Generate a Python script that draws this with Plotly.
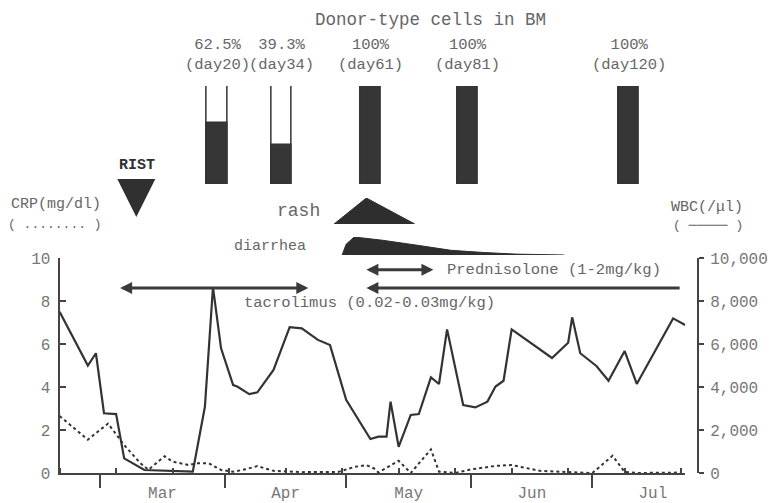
import plotly.graph_objects as go

W, H = 771, 503

# ---------------- data ----------------
# WBC (/ul), solid line, right axis
wbc_dates = ["2001-02-19", "2001-02-26", "2001-02-28", "2001-03-02", "2001-03-05", "2001-03-07",
             "2001-03-12", "2001-03-18", "2001-03-24", "2001-03-27", "2001-03-29", "2001-03-31",
             "2001-04-03", "2001-04-04", "2001-04-07", "2001-04-09", "2001-04-13", "2001-04-17",
             "2001-04-20", "2001-04-24", "2001-04-27", "2001-05-01", "2001-05-07", "2001-05-09",
             "2001-05-11", "2001-05-12", "2001-05-14", "2001-05-17", "2001-05-19", "2001-05-22",
             "2001-05-24", "2001-05-26", "2001-05-30", "2001-06-02", "2001-06-05", "2001-06-07",
             "2001-06-09", "2001-06-11", "2001-06-21", "2001-06-25", "2001-06-26", "2001-06-28",
             "2001-07-02", "2001-07-05", "2001-07-09", "2001-07-12", "2001-07-21", "2001-07-24"]
wbc_values = [7500, 5000, 5570, 2780, 2740, 680, 140, 100, 60, 3080,
              8650, 5800, 4090, 4020, 3670, 3750, 4790, 6780, 6730, 6190,
              5950, 3400, 1580, 1690, 1690, 3320, 1220, 2700, 2740, 4450,
              4140, 6680, 3160, 3050, 3320, 4020, 4290, 6680, 5350, 6060,
              7240, 5570, 4980, 4290, 5670, 4140, 7190, 6880]

# CRP (mg/dl), dotted line, left axis
crp_dates = ["2001-02-19", "2001-02-26", "2001-03-03", "2001-03-07", "2001-03-11", "2001-03-13",
             "2001-03-17", "2001-03-19", "2001-03-23", "2001-03-25", "2001-03-28", "2001-03-31",
             "2001-04-03", "2001-04-06", "2001-04-09", "2001-04-13", "2001-04-20", "2001-04-27",
             "2001-04-29", "2001-05-03", "2001-05-06", "2001-05-08", "2001-05-09", "2001-05-14",
             "2001-05-17", "2001-05-22", "2001-05-24", "2001-05-28", "2001-06-01", "2001-06-07",
             "2001-06-11", "2001-06-18", "2001-06-25", "2001-07-01", "2001-07-06", "2001-07-09",
             "2001-07-12", "2001-07-23"]
crp_values = [2.65, 1.55, 2.3, 1.3, 0.46, 0.15, 0.78, 0.53, 0.37, 0.45,
              0.45, 0.14, 0.06, 0.17, 0.32, 0.1, 0.04, 0.03, 0.05, 0.28,
              0.37, 0.2, 0.02, 0.57, 0.0, 1.1, 0.06, 0.0, 0.17, 0.33,
              0.37, 0.1, 0.05, 0.0, 0.8, 0.05, 0.0, 0.02]

# Donor-type cells in BM
bar_days = [20, 34, 61, 81, 120]
donor_pct = [62.5, 39.3, 100, 100, 100]
bar_dates = ["2001-03-30", "2001-04-15", "2001-05-07", "2001-05-31", "2001-07-10"]

# RIST
rist_date = "2001-03-10"

# GVHD symptoms (relative intensity)
rash_dates = ["2001-04-28", "2001-05-06", "2001-05-18"]
rash_level = [0, 1, 0]
diarrhea_dates = ["2001-04-30", "2001-05-01", "2001-05-03", "2001-05-10", "2001-05-19",
                  "2001-05-27", "2001-06-04", "2001-06-12", "2001-06-24"]
diarrhea_level = [0, 0.6, 1.0, 0.82, 0.53, 0.26, 0.14, 0.05, 0]

# drug periods
tacrolimus_periods = [("2001-03-06", "2001-04-22"), ("2001-05-06", "2001-07-23")]
prednisolone_period = ("2001-05-06", "2001-05-23")

month_tick0 = "2001-03-01"
x_range = ["2001-02-19", "2001-07-24"]
left_ticks = [0, 2, 4, 6, 8, 10]
right_ticks = [0, 2000, 4000, 6000, 8000, 10000]


def px(x):
    return x / W


def py(y):
    return 1 - y / H


DARK = "#333333"
TXT = "#666666"
DAY_MS = 24 * 3600 * 1000

fig = go.Figure()

# CRP dotted
fig.add_trace(go.Scatter(x=crp_dates, y=crp_values, yaxis="y", mode="lines",
                         line=dict(color=DARK, width=2, dash="dot"), hoverinfo="skip"))
# WBC solid
fig.add_trace(go.Scatter(x=wbc_dates, y=wbc_values, yaxis="y2", mode="lines",
                         line=dict(color=DARK, width=2.2), hoverinfo="skip"))

# chimerism bars
fig.add_trace(go.Bar(x=bar_dates, y=[100 for _ in donor_pct], yaxis="y3",
                     width=[5 * DAY_MS for _ in donor_pct],
                     marker=dict(color="white", line=dict(color=DARK, width=1.5)), hoverinfo="skip"))
fig.add_trace(go.Bar(x=bar_dates, y=donor_pct, yaxis="y3",
                     width=[5 * DAY_MS for _ in donor_pct],
                     marker=dict(color="#363636", line=dict(color=DARK, width=1.5)), hoverinfo="skip"))

# rash
fig.add_trace(go.Scatter(x=rash_dates, y=rash_level, yaxis="y4", mode="lines", fill="tozeroy",
                         fillcolor="#2e2e2e", line=dict(color="#2e2e2e", width=1), hoverinfo="skip"))
# diarrhea
fig.add_trace(go.Scatter(x=diarrhea_dates, y=diarrhea_level, yaxis="y5", mode="lines", fill="tozeroy",
                         fillcolor="#2e2e2e", line=dict(color="#2e2e2e", width=1),
                         hoverinfo="skip"))
# RIST marker
fig.add_trace(go.Scatter(x=[rist_date], y=[0.27], yaxis="y4", mode="markers", cliponaxis=False,
                         marker=dict(symbol="arrow-down", size=38, color="#303030",
                                     line=dict(width=0)), hoverinfo="skip"))

ann = []
ARROW = "#3a3a3a"
# tacrolimus arrows
(t1s, t1e), (t2s, t2e) = tacrolimus_periods
ann.append(dict(x=t1s, y=8.6, ax=t1e, ay=8.6, xref="x", yref="y", axref="x", ayref="y", text="",
                showarrow=True, arrowhead=2, arrowsize=0.8, arrowwidth=3, arrowcolor=ARROW,
                arrowside="end+start"))
ann.append(dict(x=t2s, y=8.6, ax=t2e, ay=8.6, xref="x", yref="y", axref="x", ayref="y", text="",
                showarrow=True, arrowhead=2, arrowsize=0.8, arrowwidth=3, arrowcolor=ARROW,
                arrowside="end"))
ann.append(dict(x=prednisolone_period[0], y=9.45, ax=prednisolone_period[1], ay=9.45, xref="x", yref="y",
                axref="x", ayref="y", text="", showarrow=True, arrowhead=2, arrowsize=0.8,
                arrowwidth=3, arrowcolor=ARROW, arrowside="end+start"))

# bar labels
for d, p, bd in zip(bar_days, donor_pct, bar_dates):
    ann.append(dict(x=bd, y=100, xref="x", yref="y3", xanchor="center", yanchor="bottom", yshift=10,
                    showarrow=False, text=f"{p:g}%<br>(day{d})", font=dict(size=15.5, color=TXT)))

ann += [
    dict(x=px(430), y=py(20), text="Donor-type cells in BM", font=dict(size=17.5, color=TXT)),
    dict(x=px(136.5), y=py(165), text="<b>RIST</b>", font=dict(size=15, color="#303030")),
    dict(x=px(56), y=py(204), text="CRP(mg/dl)", font=dict(size=15, color=TXT)),
    dict(x=px(55), y=py(224), text="( ........ )", font=dict(size=13, color=TXT)),
    dict(x=px(707), y=py(207), text="WBC(/μl)", font=dict(size=15, color=TXT)),
    dict(x=px(708), y=py(225), text="( ───── )", font=dict(size=13, color=TXT)),
    dict(x=px(322), y=py(211), text="rash", xanchor="right", font=dict(size=18, color=TXT)),
    dict(x=px(308), y=py(246), text="diarrhea", xanchor="right", font=dict(size=15, color=TXT)),
    dict(x=px(242), y=py(303), text="tacrolimus (0.02-0.03mg/kg)", xanchor="left",
         font=dict(size=15.5, color=TXT)),
    dict(x=px(445), y=py(270), text="Prednisolone (1-2mg/kg)", xanchor="left",
         font=dict(size=15.5, color=TXT)),
]
for a in ann[3 + len(bar_days):]:
    a.setdefault("xanchor", "center")
    a.update(xref="paper", yref="paper", showarrow=False, yanchor="middle")

axis_common = dict(showgrid=False, zeroline=False, showline=True, linecolor="#444", linewidth=2,
                   tickcolor="#444", tickwidth=1.5, tickfont=dict(size=16, color="#777"),
                   fixedrange=True, automargin=False)

fig.update_layout(
    template="none",
    width=W, height=H, margin=dict(l=0, r=0, t=0, b=0, pad=0), autosize=False,
    paper_bgcolor="white", plot_bgcolor="rgba(0,0,0,0)",
    showlegend=False, barmode="overlay", bargap=0,
    font=dict(family="Liberation Mono", color=TXT, size=16),
    xaxis=dict(type="date", domain=[px(59.6), px(685.2)], range=x_range, anchor="y",
               ticks="outside", ticklen=13, dtick="M1", tick0=month_tick0, tickformat="%b",
               ticklabelmode="period", ticklabelstandoff=-9,
               minor=dict(ticks="inside", ticklen=5, tickwidth=1.5, tickcolor="#444",
                          dtick=14 * DAY_MS, tick0="2001-03-05", showgrid=False),
               **axis_common),
    yaxis=dict(domain=[py(473), py(258)], range=[0, 10], tickvals=left_ticks, ticks="inside",
               ticklen=6, anchor="x", ticklabelstandoff=4, **axis_common),
    yaxis2=dict(overlaying="y", side="right", anchor="free", position=px(698), range=[0, 10000],
                tickvals=right_ticks, tickformat=",", ticks="outside", ticklen=5,
                ticklabelstandoff=3, **axis_common),
    yaxis3=dict(domain=[py(184), py(86)], range=[0, 100], visible=False, anchor="x",
                fixedrange=True, automargin=False),
    yaxis4=dict(domain=[py(224), py(198)], range=[0, 1], visible=False, anchor="x",
                fixedrange=True, automargin=False),
    yaxis5=dict(domain=[py(255), py(237)], range=[0, 1], visible=False, anchor="x",
                fixedrange=True, automargin=False),
    annotations=ann,
)

fig.write_html("out.html", config={"displayModeBar": False},
               post_script="document.body.style.margin='0px';document.body.style.overflow='hidden';")
